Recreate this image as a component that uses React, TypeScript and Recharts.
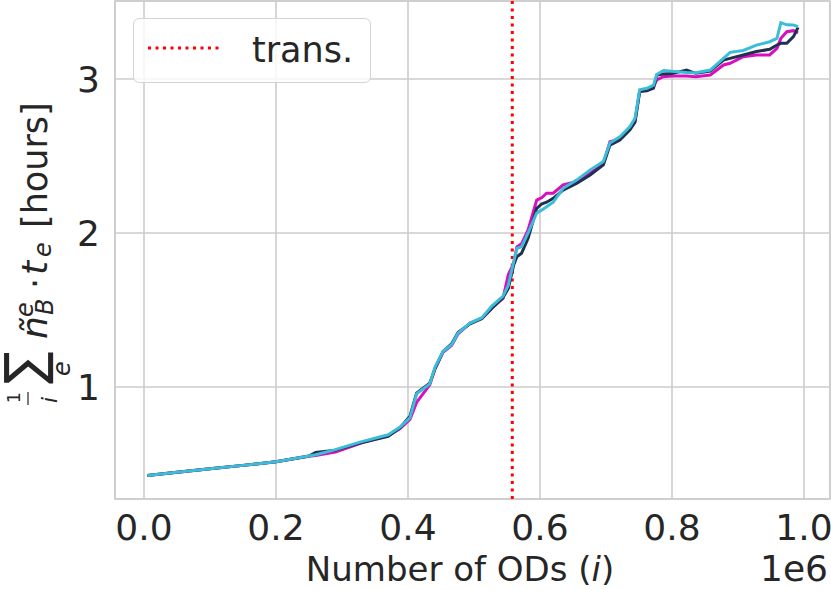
import {
  LineChart,
  Line,
  XAxis,
  YAxis,
  CartesianGrid,
  ReferenceLine,
  ReferenceArea,
  Label,
} from "recharts";

// number of ODs processed
const ods = [
  5000, 50000, 100000, 150000, 200000, 250000, 260000, 290000, 330000, 370000,
  388000, 403000, 413000, 433000, 441000, 453000, 466000, 476000, 494000, 512000,
  527000, 544000, 552000, 560000, 565000, 572000, 582000, 595000, 603000, 610000,
  620000, 635000, 656000, 676000, 696000, 706000, 721000, 736000, 744000, 751000,
  762000, 772000, 777000, 787000, 800000, 822000, 836000, 858000, 878000, 888000,
  908000, 928000, 948000, 959000, 965000, 974000, 984000, 991000,
];

// mean hours per OD, three runs
const runMagenta = [
  0.425, 0.447, 0.469, 0.491, 0.515, 0.55, 0.555, 0.578, 0.638, 0.685,
  0.73, 0.79, 0.9, 1.015, 1.12, 1.225, 1.27, 1.345, 1.415, 1.445,
  1.515, 1.575, 1.73, 1.8, 1.91, 1.93, 2.02, 2.214, 2.23, 2.258,
  2.258, 2.312, 2.335, 2.388, 2.45, 2.593, 2.61, 2.675, 2.73, 2.92,
  2.93, 2.95, 2.994, 3.015, 3.02, 3.019, 3.015, 3.026, 3.091, 3.102,
  3.145, 3.156, 3.156, 3.199, 3.264, 3.307, 3.314, 3.3,
];
const runNavy = [
  0.425, 0.447, 0.469, 0.491, 0.515, 0.552, 0.575, 0.59, 0.64, 0.68,
  0.735, 0.81, 0.96, 1.025, 1.12, 1.23, 1.28, 1.355, 1.41, 1.445,
  1.51, 1.58, 1.64, 1.79, 1.846, 1.868, 1.966, 2.16, 2.19, 2.2,
  2.225, 2.279, 2.323, 2.377, 2.442, 2.571, 2.604, 2.669, 2.72, 2.918,
  2.924, 2.94, 3.026, 3.032, 3.035, 3.058, 3.037, 3.052, 3.123, 3.134,
  3.156, 3.178, 3.193, 3.221, 3.232, 3.232, 3.275, 3.335,
];
const runCyan = [
  0.425, 0.447, 0.469, 0.491, 0.515, 0.552, 0.56, 0.593, 0.645, 0.69,
  0.74, 0.8, 0.955, 1.02, 1.13, 1.23, 1.275, 1.35, 1.415, 1.45,
  1.525, 1.59, 1.66, 1.81, 1.9, 1.91, 2.0, 2.13, 2.15, 2.17,
  2.2, 2.29, 2.345, 2.41, 2.465, 2.585, 2.625, 2.69, 2.745, 2.93,
  2.94, 2.96, 3.03, 3.055, 3.05, 3.042, 3.04, 3.058, 3.134, 3.173,
  3.185, 3.22, 3.242, 3.264, 3.366, 3.352, 3.35, 3.34,
];

const xTicks = [0, 200000, 400000, 600000, 800000, 1000000];
const yTicks = [1, 2, 3];
const transition = 558000;

const xDomain = [-43939, 1039394];
const yDomain = [0.2727, 3.5065];

const data = ods.map((x, i) => ({
  x,
  magenta: runMagenta[i],
  navy: runNavy[i],
  cyan: runCyan[i],
}));

const FONT = "DejaVu Sans";
const TEXT = "#262626";

function YLabel() {
  return (
    <g transform="translate(47,405) rotate(-90)" fill={TEXT} fontFamily={FONT}>
      <text x={2} y={-27} fontSize={17}>1</text>
      <line x1={0} x2={13} y1={-19} y2={-19} stroke={TEXT} strokeWidth={1.2} />
      <text x={2} y={10} fontSize={22} fontStyle="italic">i</text>
      <text transform="translate(21,-4) scale(0.9,1)" fontSize={54}>∑</text>
      <text x={29} y={23} fontSize={24} fontStyle="italic">e</text>
      <text x={66} y={0} fontSize={36} fontStyle="italic">ñ</text>
      <text x={88} y={-14} fontSize={24} fontStyle="italic">e</text>
      <text x={90} y={6} fontSize={24} fontStyle="italic">B</text>
      <text x={116} y={0} fontSize={35}>·</text>
      <text x={130} y={0} fontSize={36} fontStyle="italic">t</text>
      <text x={148} y={4} fontSize={24} fontStyle="italic">e</text>
      <text x={177} y={0} fontSize={35}>[hours]</text>
    </g>
  );
}

function XLabel() {
  return (
    <g fill={TEXT} fontFamily={FONT}>
      <text x={460} y={581} textAnchor="middle" fontSize={34}>
        Number of ODs (<tspan fontStyle="italic">i</tspan>)
      </text>
      <text x={828} y={581} textAnchor="end" fontSize={36}>
        1e6
      </text>
    </g>
  );
}

function TransLegend() {
  return (
    <div
      style={{
        position: "absolute",
        left: 133,
        top: 18,
        width: 238,
        height: 65,
        boxSizing: "border-box",
        border: "1.5px solid #d4d4d4",
        borderRadius: 6,
        background: "rgba(255,255,255,0.8)",
      }}
    >
      <svg width={238} height={65} style={{ position: "absolute", left: -1.5, top: -1.5 }}>
        <line x1={15} x2={89} y1={30} y2={30} stroke="#ff0000" strokeWidth={3} strokeDasharray="3 4.5" />
        <text x={119} y={44} fontSize={35} fill={TEXT} fontFamily={FONT}>
          trans.
        </text>
      </svg>
    </div>
  );
}

export default function App() {
  return (
    <div style={{ position: "absolute", left: 0, top: 0, width: 831, height: 590, background: "#fff" }}>
      <LineChart width={831} height={590} data={data} margin={{ top: 1, right: 1, left: 0, bottom: 0 }}>
        <CartesianGrid stroke="#cccccc" strokeWidth={1.6} />
        <ReferenceArea
          x1={xDomain[0]}
          x2={xDomain[1]}
          y1={yDomain[0]}
          y2={yDomain[1]}
          fill="none"
          stroke="#cccccc"
          strokeWidth={1.6}
          ifOverflow="visible"
        />
        <XAxis
          dataKey="x"
          type="number"
          domain={xDomain}
          ticks={xTicks}
          allowDataOverflow
          height={91}
          tickLine={false}
          axisLine={false}
          tickSize={0}
          tickMargin={15}
          tickFormatter={(v) => (v / 1e6).toFixed(1)}
          tick={{ fontSize: 36, fill: TEXT, fontFamily: FONT }}
        >
          <Label content={() => <XLabel />} />
        </XAxis>
        <YAxis
          type="number"
          domain={yDomain}
          ticks={yTicks}
          allowDataOverflow
          width={115}
          tickLine={false}
          axisLine={false}
          tickSize={0}
          tickMargin={15}
          tick={{ fontSize: 36, fill: TEXT, fontFamily: FONT }}
        >
          <Label content={() => <YLabel />} />
        </YAxis>
        <ReferenceLine x={transition} stroke="#ff0000" strokeWidth={3} strokeDasharray="3 4.5" />
        <Line dataKey="magenta" stroke="#d90fbf" strokeWidth={3} dot={false} isAnimationActive={false} />
        <Line dataKey="navy" stroke="#1f3050" strokeWidth={3} dot={false} isAnimationActive={false} />
        <Line dataKey="cyan" stroke="#3bbdd9" strokeWidth={3} dot={false} isAnimationActive={false} />
      </LineChart>
      <TransLegend />
    </div>
  );
}
